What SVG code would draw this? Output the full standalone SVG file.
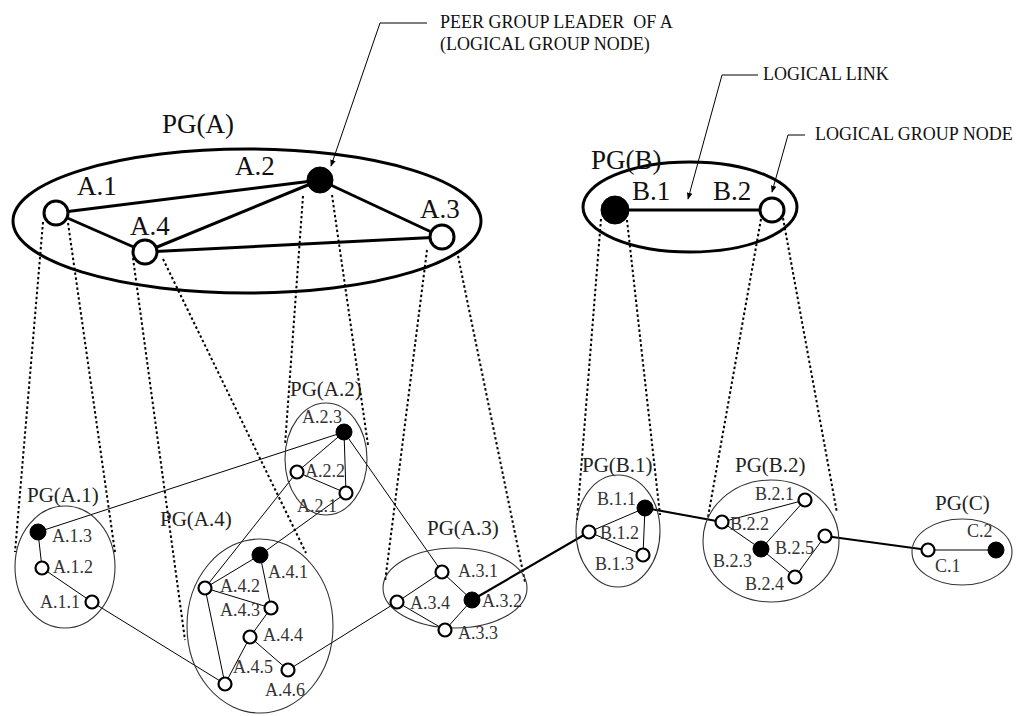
<svg xmlns="http://www.w3.org/2000/svg" width="1020" height="716" viewBox="0 0 1020 716">
  <style>
    text { font-family: "Liberation Serif", "Times New Roman", serif; fill: #111; }
    .big { font-size: 27px; }
    .pg { font-size: 21px; fill: #222; }
    .lbl { font-size: 18px; fill: #333; }
    .note { font-size: 18px; }
    .grp { fill: none; stroke: #000; stroke-width: 3; }
    .sub { fill: none; stroke: #333; stroke-width: 1.1; }
    .proj { fill: none; stroke: #000; stroke-width: 2; stroke-dasharray: 2.5 2.5; }
    .thick { fill: none; stroke: #000; stroke-width: 3; }
    .link { fill: none; stroke: #000; stroke-width: 2.2; }
    .thin { fill: none; stroke: #000; stroke-width: 1; }
    .call { fill: none; stroke: #000; stroke-width: 1; }
    .open-l { fill: #fff; stroke: #000; stroke-width: 3; }
    .open-s { fill: #fff; stroke: #000; stroke-width: 2.2; }
    .leader { fill: #000; stroke: #000; stroke-width: 1; }
  </style>
  <defs>
    <marker id="tip" viewBox="0 0 10 10" refX="9" refY="5" markerWidth="7" markerHeight="7" orient="auto" markerUnits="userSpaceOnUse">
      <path d="M0,1 L10,5 L0,9 z" fill="#000"/>
    </marker>
  </defs>

  <!-- connectors: projections, links and callouts -->
  <g id="connectors">
    <!-- projections of top-level nodes onto their child peer groups -->
    <line class="proj" x1="43" y1="222" x2="15" y2="552"/>
    <line class="proj" x1="68" y1="223" x2="115" y2="552"/>
    <line class="proj" x1="133" y1="258" x2="185" y2="640"/>
    <line class="proj" x1="163" y1="259" x2="306" y2="553"/>
    <line class="proj" x1="303" y1="196" x2="285" y2="445"/>
    <line class="proj" x1="332" y1="195" x2="368" y2="445"/>
    <line class="proj" x1="427" y1="250" x2="385" y2="582"/>
    <line class="proj" x1="457" y1="251" x2="525" y2="582"/>
    <line class="proj" x1="601" y1="219" x2="577" y2="520"/>
    <line class="proj" x1="627" y1="220" x2="660" y2="515"/>
    <line class="proj" x1="761" y1="219" x2="708" y2="517"/>
    <line class="proj" x1="783" y1="218" x2="837" y2="513"/>

    <!-- PG(A) logical links -->
    <line class="thick" x1="56" y1="213" x2="320" y2="180"/>
    <line class="thick" x1="56" y1="213" x2="145" y2="252"/>
    <line class="thick" x1="145" y1="252" x2="320" y2="180"/>
    <line class="thick" x1="320" y1="180" x2="442" y2="237"/>
    <line class="thick" x1="145" y1="252" x2="442" y2="237"/>
    <!-- PG(B) logical link -->
    <line class="thick" x1="615" y1="210" x2="772" y2="210"/>

    <!-- links inside PG(A.1) -->
    <line class="thin" x1="38" y1="532" x2="42" y2="568"/>
    <line class="thin" x1="42" y1="568" x2="92" y2="602"/>
    <!-- links inside PG(A.2) -->
    <line class="thin" x1="344" y1="432" x2="297" y2="472"/>
    <line class="thin" x1="344" y1="432" x2="346" y2="493"/>
    <line class="thin" x1="297" y1="472" x2="346" y2="493"/>
    <!-- links inside PG(A.4) -->
    <line class="thin" x1="260" y1="555" x2="205" y2="588"/>
    <line class="thin" x1="260" y1="555" x2="271" y2="608"/>
    <line class="thin" x1="205" y1="588" x2="271" y2="608"/>
    <line class="thin" x1="271" y1="608" x2="250" y2="637"/>
    <line class="thin" x1="250" y1="637" x2="225" y2="684"/>
    <line class="thin" x1="250" y1="637" x2="288" y2="670"/>
    <line class="thin" x1="205" y1="588" x2="225" y2="684"/>
    <!-- links inside PG(A.3) -->
    <line class="thin" x1="442" y1="572" x2="397" y2="602"/>
    <line class="thin" x1="442" y1="572" x2="472" y2="600"/>
    <line class="thin" x1="397" y1="602" x2="445" y2="630"/>
    <line class="thin" x1="445" y1="630" x2="472" y2="600"/>
    <!-- links inside PG(B.1) -->
    <line class="thin" x1="645" y1="508" x2="589" y2="532"/>
    <line class="thin" x1="645" y1="508" x2="643" y2="555"/>
    <line class="thin" x1="589" y1="532" x2="643" y2="555"/>
    <!-- links inside PG(B.2) -->
    <line class="thin" x1="722" y1="522" x2="805" y2="500"/>
    <line class="thin" x1="805" y1="500" x2="761" y2="549"/>
    <line class="thin" x1="722" y1="522" x2="761" y2="549"/>
    <line class="thin" x1="761" y1="549" x2="795" y2="577"/>
    <line class="thin" x1="795" y1="577" x2="825" y2="536"/>
    <!-- link inside PG(C) -->
    <line class="thin" x1="928" y1="550" x2="996" y2="550"/>

    <!-- links between lowest-level peer groups -->
    <line class="thin" x1="38" y1="532" x2="344" y2="432"/>
    <line class="thin" x1="92" y1="602" x2="225" y2="684"/>
    <line class="thin" x1="297" y1="472" x2="205" y2="588"/>
    <line class="thin" x1="346" y1="493" x2="260" y2="555"/>
    <line class="thin" x1="344" y1="432" x2="442" y2="572"/>
    <line class="thin" x1="397" y1="602" x2="288" y2="670"/>
    <line class="link" x1="472" y1="600" x2="589" y2="532"/>
    <line class="link" x1="645" y1="508" x2="722" y2="522"/>
    <line class="link" x1="825" y1="536" x2="928" y2="550"/>

    <!-- callouts -->
    <polyline class="call" points="427,23 380,23 331,166" marker-end="url(#tip)"/>
    <polyline class="call" points="758,75 722,75 688,199" marker-end="url(#tip)"/>
    <polyline class="call" points="805,135 788,135 772,192" marker-end="url(#tip)"/>
  </g>

  <!-- callout texts -->
  <g id="notes">
    <text class="note" x="440" y="28" xml:space="preserve">PEER GROUP LEADER  OF A</text>
    <text class="note" x="440" y="50">(LOGICAL GROUP NODE)</text>
    <text class="note" x="763" y="80">LOGICAL LINK</text>
    <text class="note" x="815" y="140">LOGICAL GROUP NODE</text>
  </g>

  <!-- top-level peer groups -->
  <g id="pg-a">
    <ellipse class="grp" cx="247" cy="221" rx="234" ry="72"/>
    <text class="big" x="162" y="133">PG(A)</text>
  </g>
  <g id="pg-b">
    <ellipse class="grp" cx="690" cy="207" rx="107" ry="45"/>
    <text class="big" x="591" y="169">PG(B)</text>
  </g>

  <!-- logical group nodes -->
  <g id="node-a1"><circle class="open-l" cx="56" cy="213" r="12"/><text class="big" x="77" y="195">A.1</text></g>
  <g id="node-a2"><circle class="leader" cx="320" cy="180" r="13"/><text class="big" x="235" y="175">A.2</text></g>
  <g id="node-a3"><circle class="open-l" cx="442" cy="237" r="12"/><text class="big" x="420" y="218">A.3</text></g>
  <g id="node-a4"><circle class="open-l" cx="145" cy="252" r="12"/><text class="big" x="130" y="235">A.4</text></g>
  <g id="node-b1"><circle class="leader" cx="615" cy="210" r="14"/><text class="big" x="632" y="200">B.1</text></g>
  <g id="node-b2"><circle class="open-l" cx="772" cy="210" r="12"/><text class="big" x="713" y="200">B.2</text></g>

  <!-- lowest-level peer groups -->
  <g id="pg-a1">
    <ellipse class="sub" cx="65" cy="567" rx="50" ry="61"/>
    <text class="pg" x="27" y="502">PG(A.1)</text>
  </g>
  <g id="pg-a2">
    <ellipse class="sub" cx="326" cy="459" rx="41" ry="56"/>
    <text class="pg" x="290" y="396">PG(A.2)</text>
  </g>
  <g id="pg-a3">
    <ellipse class="sub" cx="455" cy="588" rx="72" ry="40"/>
    <text class="pg" x="427" y="535">PG(A.3)</text>
  </g>
  <g id="pg-a4">
    <ellipse class="sub" cx="260" cy="626" rx="73" ry="87"/>
    <text class="pg" x="160" y="526">PG(A.4)</text>
  </g>
  <g id="pg-b1">
    <ellipse class="sub" cx="618" cy="531" rx="42" ry="56"/>
    <text class="pg" x="582" y="472">PG(B.1)</text>
  </g>
  <g id="pg-b2">
    <ellipse class="sub" cx="771" cy="541" rx="68" ry="61"/>
    <text class="pg" x="735" y="472">PG(B.2)</text>
  </g>
  <g id="pg-c">
    <ellipse class="sub" cx="962" cy="552" rx="50" ry="33"/>
    <text class="pg" x="935" y="510">PG(C)</text>
  </g>

  <!-- physical nodes -->
  <g id="node-a13"><circle class="leader" cx="38" cy="532" r="8"/><text class="lbl" x="52" y="542">A.1.3</text></g>
  <g id="node-a12"><circle class="open-s" cx="42" cy="568" r="6.5"/><text class="lbl" x="53" y="573">A.1.2</text></g>
  <g id="node-a11"><circle class="open-s" cx="92" cy="602" r="6.5"/><text class="lbl" x="40" y="608">A.1.1</text></g>

  <g id="node-a23"><circle class="leader" cx="344" cy="432" r="8"/><text class="lbl" x="302" y="423">A.2.3</text></g>
  <g id="node-a22"><circle class="open-s" cx="297" cy="472" r="6.5"/><text class="lbl" x="305" y="477">A.2.2</text></g>
  <g id="node-a21"><circle class="open-s" cx="346" cy="493" r="6.5"/><text class="lbl" x="297" y="512">A.2.1</text></g>

  <g id="node-a41"><circle class="leader" cx="260" cy="555" r="8"/><text class="lbl" x="268" y="578">A.4.1</text></g>
  <g id="node-a42"><circle class="open-s" cx="205" cy="588" r="6.5"/><text class="lbl" x="220" y="592">A.4.2</text></g>
  <g id="node-a43"><circle class="open-s" cx="271" cy="608" r="6.5"/><text class="lbl" x="220" y="616">A.4.3</text></g>
  <g id="node-a44"><circle class="open-s" cx="250" cy="637" r="6.5"/><text class="lbl" x="263" y="641">A.4.4</text></g>
  <g id="node-a45"><circle class="open-s" cx="225" cy="684" r="6.5"/><text class="lbl" x="233" y="673">A.4.5</text></g>
  <g id="node-a46"><circle class="open-s" cx="288" cy="670" r="6.5"/><text class="lbl" x="265" y="696">A.4.6</text></g>

  <g id="node-a31"><circle class="open-s" cx="442" cy="572" r="6.5"/><text class="lbl" x="458" y="577">A.3.1</text></g>
  <g id="node-a32"><circle class="leader" cx="472" cy="600" r="8"/><text class="lbl" x="482" y="607">A.3.2</text></g>
  <g id="node-a33"><circle class="open-s" cx="445" cy="630" r="6.5"/><text class="lbl" x="458" y="639">A.3.3</text></g>
  <g id="node-a34"><circle class="open-s" cx="397" cy="602" r="6.5"/><text class="lbl" x="410" y="609">A.3.4</text></g>

  <g id="node-b11"><circle class="leader" cx="645" cy="508" r="8"/><text class="lbl" x="597" y="505">B.1.1</text></g>
  <g id="node-b12"><circle class="open-s" cx="589" cy="532" r="6.5"/><text class="lbl" x="600" y="539">B.1.2</text></g>
  <g id="node-b13"><circle class="open-s" cx="643" cy="555" r="6.5"/><text class="lbl" x="595" y="570">B.1.3</text></g>

  <g id="node-b21"><circle class="open-s" cx="805" cy="500" r="6.5"/><text class="lbl" x="755" y="500">B.2.1</text></g>
  <g id="node-b22"><circle class="open-s" cx="722" cy="522" r="6.5"/><text class="lbl" x="730" y="530">B.2.2</text></g>
  <g id="node-b23"><circle class="leader" cx="761" cy="549" r="8"/><text class="lbl" x="713" y="567">B.2.3</text></g>
  <g id="node-b24"><circle class="open-s" cx="795" cy="577" r="6.5"/><text class="lbl" x="745" y="590">B.2.4</text></g>
  <g id="node-b25"><circle class="open-s" cx="825" cy="536" r="6.5"/><text class="lbl" x="775" y="554">B.2.5</text></g>

  <g id="node-c1"><circle class="open-s" cx="928" cy="550" r="6.5"/><text class="lbl" x="935" y="572">C.1</text></g>
  <g id="node-c2"><circle class="leader" cx="996" cy="550" r="8"/><text class="lbl" x="967" y="537">C.2</text></g>
</svg>
